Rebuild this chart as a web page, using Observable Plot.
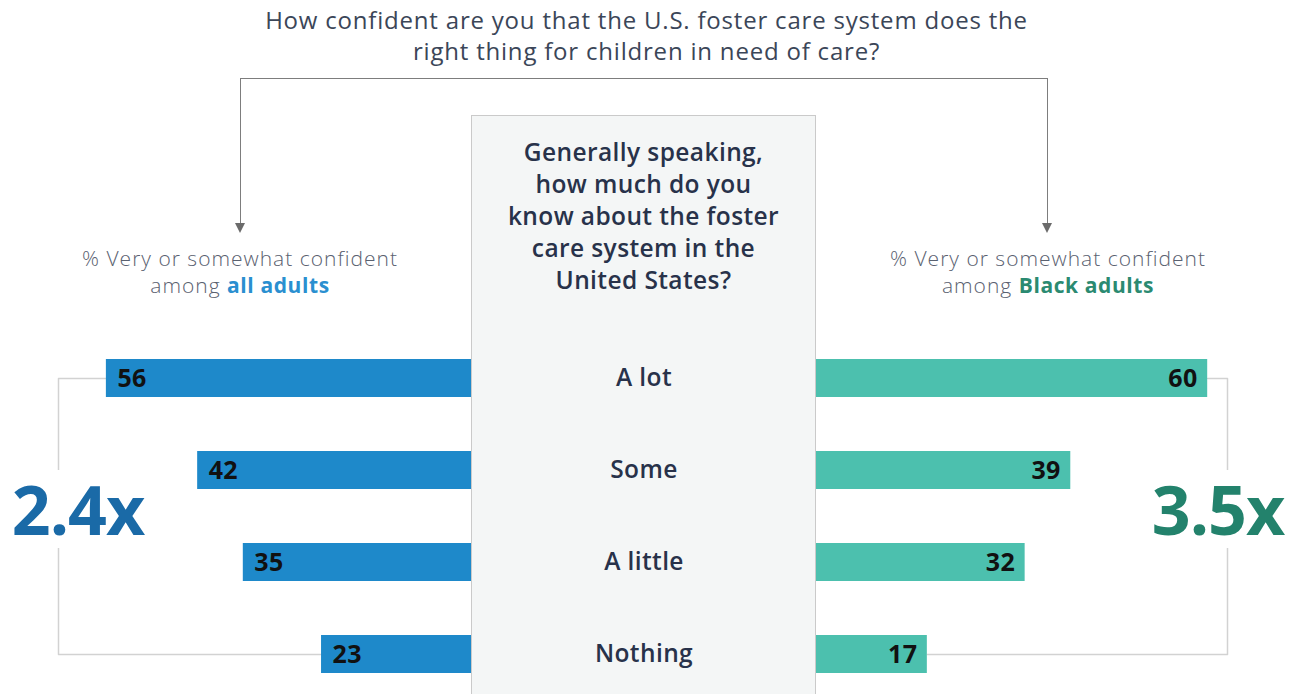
<!DOCTYPE html>
<html><head><meta charset="utf-8">
<script src="https://cdn.jsdelivr.net/npm/d3@7"></script>
<script src="https://cdn.jsdelivr.net/npm/@observablehq/plot@0.6"></script>
<style>
body{margin:0;background:#fff;font-family:"Open Sans",sans-serif;}
#wrap{position:relative;width:1293px;height:694px;overflow:hidden;background:#fff;}
#wrap > *{position:absolute;}
#title{left:0;width:1293px;top:4px;text-align:center;font-size:24px;line-height:31px;color:#3b4658;letter-spacing:0.8px;}
#bracket{left:240px;top:78px;width:808px;height:148px;border:1.3px solid #7d7d7d;border-bottom:none;box-sizing:border-box;}
.arrow{top:223px;width:0;height:0;border-left:5.5px solid transparent;border-right:5.5px solid transparent;border-top:10px solid #6b6b6b;}
.hdr{top:245px;width:440px;text-align:center;font-size:21px;line-height:27px;color:#5a6170;font-weight:300;letter-spacing:1px;}
.hdr b{font-weight:700;letter-spacing:0.6px;}
#box{left:471px;top:115px;width:345px;height:600px;background:#f4f6f6;border:1.5px solid #cacaca;box-sizing:border-box;}
#q{left:471px;width:345px;top:136px;text-align:center;font-size:24.5px;line-height:32px;color:#28324a;font-weight:600;letter-spacing:0.4px;}
.mult{top:470px;height:78px;line-height:78px;font-size:68px;font-weight:700;background:#fff;text-align:center;letter-spacing:-1px;}
#plot{left:0;top:0;}
#plot text{letter-spacing:0.4px;}
</style></head><body><div id="wrap"></div>
<script>
// ---- data ----
const categories = ["A lot", "Some", "A little", "Nothing"];
const allAdults = [56, 42, 35, 23];
const blackAdults = [60, 39, 32, 17];
const multipliers = ["2.4x", "3.5x"];
const titleLines = ["How confident are you that the U.S. foster care system does the", "right thing for children in need of care?"];
const questionLines = ["Generally speaking,", "how much do you", "know about the foster", "care system in the", "United States?"];
const headerLine1 = "% Very or somewhat confident";
const groups = ["all adults", "Black adults"];

// ---- style ----
const colors = {all: "#1e89ca", black: "#4cc0ae", allText: "#2a8fd0", blackText: "#2b8a71", allMult: "#1a6aa7", blackMult: "#23826c"};
const W = 1293, H = 694, center = 643.5, k = 6.52;
const gap = 172.5 / k;
const bracketL = (58 - center) / k, bracketR = (1227 - center) / k;

const wrap = document.getElementById("wrap");
const el = (tag, id, cls, html) => { const e = document.createElement(tag); if (id) e.id = id; if (cls) e.className = cls; if (html != null) e.innerHTML = html; wrap.appendChild(e); return e; };

el("div", "box");
el("div", "title", null, titleLines.join("<br>"));
el("div", "bracket");
const a1 = el("div", null, "arrow"); a1.style.left = (240 - 5.5 + 0.5) + "px";
const a2 = el("div", null, "arrow"); a2.style.left = (1048 - 5.5 - 0.5) + "px";
el("div", "q", null, questionLines.join("<br>"));

const rows = categories.map((c, i) => ({cat: c, all: allAdults[i], black: blackAdults[i]}));
const n = rows.length;
const leftBracket = [
  {x: -gap - rows[0].all, y: categories[0]}, {x: bracketL, y: categories[0]},
  {x: bracketL, y: categories[n - 1]}, {x: -gap - rows[n - 1].all, y: categories[n - 1]}
];
const rightBracket = [
  {x: gap + rows[0].black, y: categories[0]}, {x: bracketR, y: categories[0]},
  {x: bracketR, y: categories[n - 1]}, {x: gap + rows[n - 1].black, y: categories[n - 1]}
];

const chart = Plot.plot({
  width: W, height: H, margin: 0,
  style: {background: "transparent", overflow: "visible"},
  x: {domain: [-center / k, (W - center) / k], range: [0, W], axis: null},
  y: {type: "band", domain: categories, range: [330.7, 701.4], paddingInner: 0.59, paddingOuter: 0.295, axis: null},
  marks: [
    Plot.line(leftBracket, {x: "x", y: "y", stroke: "#d2d2d2", strokeWidth: 1.5}),
    Plot.line(rightBracket, {x: "x", y: "y", stroke: "#d2d2d2", strokeWidth: 1.5}),
    Plot.barX(rows, {x1: d => -gap - d.all, x2: () => -gap, y: "cat", fill: colors.all}),
    Plot.barX(rows, {x1: () => gap, x2: d => gap + d.black, y: "cat", fill: colors.black}),
    Plot.text(rows, {x: d => -gap - d.all, y: "cat", text: d => String(d.all), textAnchor: "start", dx: 11, fontSize: 25, fontWeight: 700, fill: "#111", fontFamily: "Open Sans"}),
    Plot.text(rows, {x: d => gap + d.black, y: "cat", text: d => String(d.black), textAnchor: "end", dx: -10, fontSize: 25, fontWeight: 700, fill: "#111", fontFamily: "Open Sans"}),
    Plot.text(rows, {x: () => 0, y: "cat", text: "cat", fontSize: 24.5, fontWeight: 600, fill: "#28324a", fontFamily: "Open Sans"})
  ]
});
chart.id = "plot";
wrap.appendChild(chart);

const h1 = el("div", null, "hdr", headerLine1 + "<br>among <b style='color:" + colors.allText + "'>" + groups[0] + "</b>");
h1.style.left = (240 - 220) + "px";
const h2 = el("div", null, "hdr", headerLine1 + "<br>among <b style='color:" + colors.blackText + "'>" + groups[1] + "</b>");
h2.style.left = (1048 - 220) + "px";

const m1 = el("div", null, "mult", multipliers[0]); m1.style.left = "8px"; m1.style.width = "140px"; m1.style.color = colors.allMult;
const m2 = el("div", null, "mult", multipliers[1]); m2.style.left = "1150px"; m2.style.width = "136px"; m2.style.color = colors.blackMult;
</script>
</body></html>
